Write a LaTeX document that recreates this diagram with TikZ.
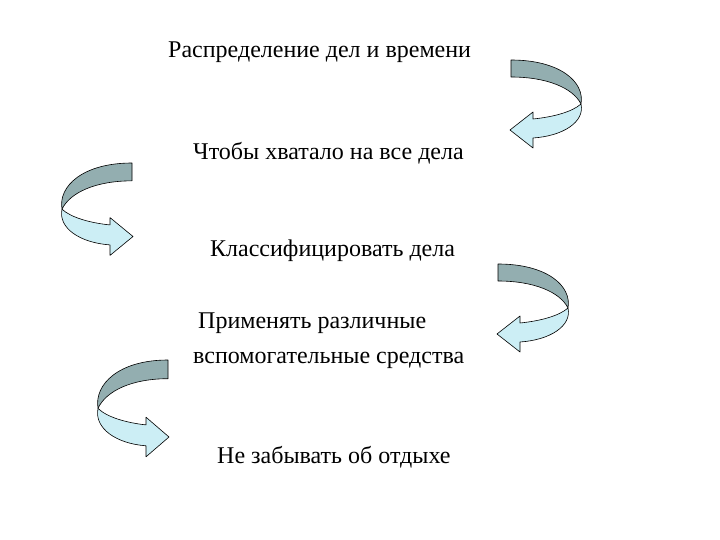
\documentclass[tikz,border=0pt]{standalone}
\usepackage{fontspec}
\setmainfont{Liberation Serif}
\definecolor{darkband}{HTML}{93AEB0}
\definecolor{lightband}{HTML}{CCEEF5}
\begin{document}
\begin{tikzpicture}[x=1pt,y=-1pt,
  lbl/.style={anchor=base west,inner sep=0pt,font=\fontsize{24}{35}\selectfont},
  band/.style={draw=black,line width=0.6pt,line join=round}]
\useasboundingbox (0,0) rectangle (720,540);
\fill[white] (0,0) rectangle (720,540);
\newcommand\uturn{%
  \path[band,fill=darkband] (0,0) .. controls (49,0) and (74,22) .. (70,44)
     .. controls (62,28) and (36,17) .. (0,17) -- cycle;
  \path[band,fill=lightband] (70,44) .. controls (74,62) and (52,76) .. (22,78)
     -- (22,88) -- (-1,70) -- (22,52) -- (22,59)
     .. controls (42,57) and (61,52) .. (70,44) -- cycle;}
% arrows
\begin{scope}[shift={(511,60)}]\uturn\end{scope}
\begin{scope}[shift={(132,163)},xscale=-1,yscale=1.05]\uturn\end{scope}
\begin{scope}[shift={(498,264)}]\uturn\end{scope}
\begin{scope}[shift={(168,360)},xscale=-1,yscale=1.1]\uturn\end{scope}
% texts
\node[lbl] (t1) at (168,58) {Распределение дел и времени};
\node[lbl] (t2) at (193,160) {Чтобы хватало на все дела};
\node[lbl] (t3) at (210,256) {Классифицировать дела};
\node[lbl] (t4a) at (198,328) {Применять различные};
\node[lbl] (t4b) at (193,363) {вспомогательные средства};
\node[lbl] (t5) at (217,463) {Не забывать об отдыхе};
\end{tikzpicture}
\end{document}
